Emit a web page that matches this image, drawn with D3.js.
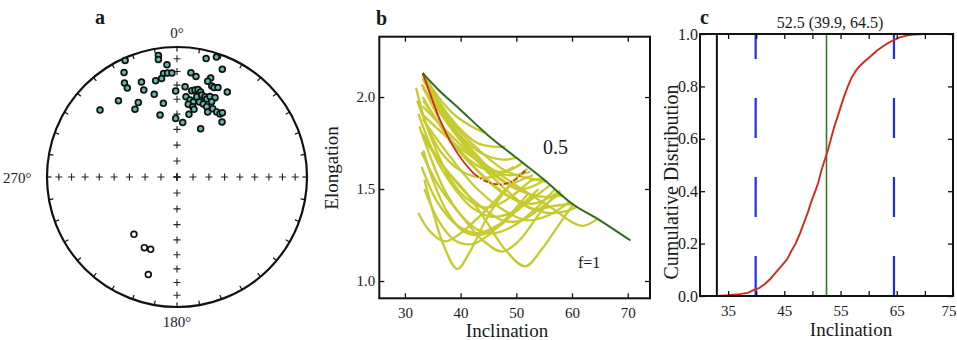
<!DOCTYPE html>
<html>
<head>
<meta charset="utf-8">
<title>Inclination shallowing</title>
<script src="https://d3js.org/d3.v7.min.js"></script>
<style>
    body { margin: 0; background: #fff; }
    svg text { font-family: "Liberation Serif", "Times New Roman", serif; fill: #1a1a1a; }
    .tick text { font-size: 15px; }
    .tick line { stroke: #111; stroke-width: 1.3px; }
</style>
</head>
<body>
<svg id="chart" width="957" height="340"></svg>
<script>
// ---- panel a: site directions (declination / inclination, negative = upper hemisphere)
const decs = [351.3,351,336,13.8,18.2,22.8,354.9,333.1,352.6,354.8,
    357.2,351.1,347.5,339.5,330.8,330.8,339.1,7.6,10.7,18.8,
    17.8,20.9,22.5,24.6,30.6,359.1,5.1,9.7,11.7,13.5,
    15.5,344.6,322.5,332.5,328.2,311,349.5,6.4,9.6,12.3,
    13.8,16.8,19.2,20.9,22.3,25.6,24.7,8.8,12.6,14.1,
    16.6,19.8,22.9,25.3,27.6,31.4,34.3,35.2,39.3,344.7,
    358.7,6.0,10.8,26.1,
    216.9,204.8,200.0,196.4];
const incs = [6.1,9.4,2.1,6.9,3.2,11.1,14.4,10.9,20.8,20.8,
    21.0,24.3,25.1,23.0,18.3,22.7,29.1,20.2,22.4,20.7,
    23.7,26.0,26.4,25.3,25.0,34.2,30.9,33.1,32.2,31.4,
    32.7,34.4,26.9,35.7,38.6,22.6,41.9,37.9,39.7,40.6,
    36.6,34.5,34.9,36.0,33.6,32.8,36.4,42.8,43.9,45.4,
    39.6,40.1,40.9,44.0,40.4,41.0,40.9,39.3,44.5,49.1,
    52.8,55.3,49.4,56.0,
    -44.1,-39.9,-40.5,-22.9];
const gridIncs = [10, 20, 30, 40, 50, 60, 70, 80, 90];
const netLabels = ["0°", "180°", "270°"];

// ---- panel b: elongation / inclination curves
const tk03Inc = [33.2, 36, 40, 45, 50, 55, 60, 65, 70.5];
const tk03E   = [2.13, 2.04, 1.93, 1.79, 1.67, 1.55, 1.42, 1.33, 1.22];
const redInc = [33.2, 34.5, 36.3, 38.5, 40.5, 42.5, 44.7, 47, 49.5, 51.6];
const redE   = [2.13, 2.02, 1.875, 1.74, 1.65, 1.58, 1.54, 1.525, 1.545, 1.6];
const bootCurves = [
    [[32.4,1.37],[34.5,1.27],[37.2,1.215],[40,1.26],[43,1.34],[46,1.43],[49,1.52],[53,1.575]],
    [[33.5,1.55],[35,1.38],[37,1.19],[39.4,1.065],[41.5,1.15],[44.5,1.33],[47,1.45],[50,1.56],[52,1.61]],
    [[33.3,1.78],[37,1.62],[41,1.48],[44.5,1.33],[48,1.17],[51.6,1.08],[54.5,1.17],[57.5,1.3],[60.3,1.42]],
    [[33,1.7],[36,1.52],[40,1.36],[44,1.22],[47.5,1.16],[50.5,1.22],[54,1.36],[57.5,1.49]],
    [[33.3,1.9],[40,1.72],[47,1.58],[52,1.48],[56.7,1.39],[60,1.32],[62,1.30],[64.5,1.335]],
    [[33.2,1.95],[38,1.8],[43,1.65],[48,1.5],[53,1.39],[57,1.41],[60.3,1.42]],
    [[33.2,2.05],[38,1.85],[43,1.68],[47,1.56],[51,1.5],[55.2,1.55]],
    [[33.2,2.1],[37,1.9],[41,1.74],[45,1.62],[48.5,1.575],[52.5,1.594]],
    [[33.2,2.0],[38,1.77],[43,1.6],[48,1.47],[53,1.42],[57.9,1.49]],
    [[33.2,2.13],[36,2.0],[39,1.9],[42,1.84],[44.5,1.805]],
    [[33.2,2.13],[36,1.98],[39.5,1.84],[43,1.75],[46,1.73],[48,1.73]],
    [[33.2,2.12],[36.5,1.94],[40,1.79],[44,1.69],[47.5,1.66],[50,1.67]],
    [[33,2.07],[35.5,1.92],[38,1.78],[41.5,1.66],[45,1.6],[48.5,1.6],[51,1.64]],
    [[32,2.05],[33.5,1.88],[35.5,1.72],[38,1.56],[41,1.45],[44,1.4],[47,1.42],[50,1.48],[53,1.55],[55,1.55]],
    [[32.4,1.91],[34,1.78],[36,1.64],[39,1.5],[42,1.4],[45.5,1.35],[49,1.37],[52.5,1.44],[56,1.52]],
    [[32.6,1.84],[34.5,1.68],[37,1.5],[40,1.36],[43,1.28],[46,1.26],[49.5,1.3],[53,1.38],[57,1.5]],
    [[33.3,1.71],[35,1.55],[37.5,1.38],[40.5,1.27],[43.5,1.25],[47,1.3],[50.5,1.4],[54,1.5]],
    [[33.2,2.1],[38,1.88],[43,1.72],[48,1.6],[52,1.56],[55.5,1.54]],
    [[33.2,2.06],[39,1.8],[45,1.6],[50,1.5],[54,1.46],[58.5,1.465]],
    [[33.3,1.98],[40,1.7],[46,1.52],[51,1.42],[55.5,1.37],[59,1.38],[61,1.405]],
    [[33,1.62],[36,1.42],[39.5,1.3],[43,1.26],[46.5,1.3],[50,1.38],[53.5,1.47]],
    [[32.2,1.98],[34,1.84],[36.5,1.7],[40,1.6],[44,1.56],[47,1.58],[49.5,1.62]],
    [[33.5,1.5],[36,1.33],[39,1.22],[42,1.2],[45,1.25],[48.5,1.35],[52,1.47]],
    [[33.2,1.88],[38,1.68],[43,1.5],[48,1.38],[52,1.33],[56,1.36],[59.5,1.43]],
    [[33.2,1.8],[38,1.58],[43,1.42],[47.5,1.33],[51,1.33],[54.5,1.4],[58,1.48]]
];
const bXTicks = [30, 40, 50, 60, 70];
const bYTicks = [1.0, 1.5, 2.0];

// ---- panel c: cumulative distribution of unflattened inclinations
const cdfInc = [33, 35, 37, 38.5, 39.5, 40.5, 41.5, 42.5, 43.5, 44.5, 45.5, 46.2, 47, 47.8, 48.5,
    49.2, 49.8, 50.5, 51, 51.6, 52.2, 52.8, 53.3, 53.8, 54.4, 55, 55.6, 56.3, 57, 57.8,
    58.3, 59.1, 60.2, 61.5, 62.5, 63.5, 64.5, 65.5, 66.7, 68, 70];
const cdfVal = [0, 0.003, 0.007, 0.012, 0.022, 0.03, 0.045, 0.065, 0.09, 0.115, 0.14, 0.17, 0.2, 0.24, 0.28,
    0.32, 0.36, 0.4, 0.43, 0.48, 0.52, 0.56, 0.6, 0.64, 0.68, 0.72, 0.76, 0.8, 0.835, 0.862,
    0.875, 0.892, 0.912, 0.937, 0.952, 0.966, 0.977, 0.987, 0.994, 0.998, 1.0];
const origInc = 33;
const meanInc = 52.5;
const ciInc = [39.9, 64.5];
const cXTicks = [35, 40, 45, 50, 55, 60, 65, 70, 75];
const cYTicks = [0, 0.2, 0.4, 0.6, 0.8, 1.0];

const svg = d3.select("#chart");

// =============== panel a ===============
const cx = 177, cy = 177, R = 130;
const rScale = d3.scaleLinear().domain([0, 1]).range([0, R]);
const rad = d => d * Math.PI / 180;
// equal-area projection
function proj(dec, inc) {
    const r = rScale(Math.SQRT2 * Math.sin(rad(90 - Math.abs(inc)) / 2));
    return [cx + r * Math.sin(rad(dec)), cy - r * Math.cos(rad(dec))];
}
const ga = svg.append("g");
ga.append("circle").attr("cx", cx).attr("cy", cy).attr("r", R)
    .attr("fill", "none").attr("stroke", "#111").attr("stroke-width", 2.2);
// azimuth ticks every 10 degrees
ga.selectAll(".az").data(d3.range(0, 360, 10)).enter().append("line")
    .attr("x1", d => cx + R * Math.sin(rad(d))).attr("y1", d => cy - R * Math.cos(rad(d)))
    .attr("x2", d => cx + (R - 4.5) * Math.sin(rad(d))).attr("y2", d => cy - (R - 4.5) * Math.cos(rad(d)))
    .attr("stroke", "#111").attr("stroke-width", 1.2);
// crosses along the four axes
const crosses = [];
[0, 90, 180, 270].forEach(az => gridIncs.forEach(i => crosses.push(proj(az, i))));
ga.selectAll(".cross").data(crosses).enter().append("path")
    .attr("d", d => `M${d[0] - 3.5},${d[1]}h7M${d[0]},${d[1] - 3.5}v7`)
    .attr("stroke", "#222").attr("stroke-width", 1.1);
// directions
ga.selectAll(".dir").data(decs.map((d, i) => ({dec: d, inc: incs[i]}))).enter().append("circle")
    .attr("cx", d => proj(d.dec, d.inc)[0]).attr("cy", d => proj(d.dec, d.inc)[1])
    .attr("r", 2.9)
    .attr("fill", d => d.inc >= 0 ? "#5cbcae" : "#fff")
    .attr("stroke", "#111").attr("stroke-width", 1.7);
ga.append("text").attr("x", cx).attr("y", 38).attr("text-anchor", "middle")
    .style("font-size", "15px").text(netLabels[0]);
ga.append("text").attr("x", cx).attr("y", 327).attr("text-anchor", "middle")
    .style("font-size", "15px").text(netLabels[1]);
ga.append("text").attr("x", 3).attr("y", 183)
    .style("font-size", "15px").text(netLabels[2]);
ga.append("text").attr("x", 95).attr("y", 24).style("font-size", "20px")
    .style("font-weight", "bold").text("a");

// =============== panel b ===============
const bx = d3.scaleLinear().domain([25.4, 74]).range([379.3, 650]);
const by = d3.scaleLinear().domain([0.906, 2.328]).range([298.3, 36.7]);
const gb = svg.append("g");
const bLine = d3.line().x(d => bx(d[0])).y(d => by(d[1])).curve(d3.curveCatmullRom.alpha(0.5));

gb.selectAll(".boot").data(bootCurves).enter().append("path")
    .attr("d", bLine).attr("fill", "none")
    .attr("stroke", "#c6cb2e").attr("stroke-width", 2.3);
const redPts = redInc.map((d, i) => [d, redE[i]]);
gb.append("path").attr("d", bLine(redPts.slice(0, 6))).attr("fill", "none")
    .attr("stroke", "#d42a1e").attr("stroke-width", 1.8);
gb.append("path").attr("d", bLine(redPts.slice(5))).attr("fill", "none")
    .attr("stroke", "#d42a1e").attr("stroke-width", 1.8).attr("stroke-dasharray", "5,2,1.5,2");
gb.append("path").attr("d", bLine(tk03Inc.map((d, i) => [d, tk03E[i]]))).attr("fill", "none")
    .attr("stroke", "#2c6e1c").attr("stroke-width", 2);

gb.append("g").attr("transform", "translate(0,298.3)")
    .call(d3.axisBottom(bx).tickValues(bXTicks).tickSize(-5).tickPadding(9))
    .call(g => g.select(".domain").remove());
gb.append("g").attr("transform", "translate(0,36.7)")
    .call(d3.axisTop(bx).tickValues(bXTicks).tickSize(-5).tickFormat(""))
    .call(g => g.select(".domain").remove());
gb.append("g").attr("transform", "translate(379.3,0)")
    .call(d3.axisLeft(by).tickValues(bYTicks).tickSize(-5).tickPadding(4).tickFormat(d3.format(".1f")))
    .call(g => g.select(".domain").remove());
gb.append("g").attr("transform", "translate(650,0)")
    .call(d3.axisRight(by).tickValues(bYTicks).tickSize(-5).tickFormat(""))
    .call(g => g.select(".domain").remove());
gb.append("rect").attr("x", 379.3).attr("y", 36.7).attr("width", 650 - 379.3).attr("height", 298.3 - 36.7)
    .attr("fill", "none").attr("stroke", "#111").attr("stroke-width", 2);

gb.append("text").attr("x", 507).attr("y", 337).attr("text-anchor", "middle")
    .style("font-size", "19px").text("Inclination");
gb.append("text").attr("transform", "translate(338,168) rotate(-90)").attr("text-anchor", "middle")
    .style("font-size", "19px").text("Elongation");
gb.append("text").attr("x", 543).attr("y", 154).style("font-size", "20px").text("0.5");
gb.append("text").attr("x", 578).attr("y", 268).style("font-size", "16px").text("f=1");
gb.append("text").attr("x", 376).attr("y", 25).style("font-size", "20px")
    .style("font-weight", "bold").text("b");

// =============== panel c ===============
const ccx = d3.scaleLinear().domain([30, 75]).range([700, 953]);
const ccy = d3.scaleLinear().domain([0, 1]).range([296, 34]);
const gc = svg.append("g");

gc.append("line").attr("x1", ccx(origInc)).attr("x2", ccx(origInc))
    .attr("y1", ccy(0)).attr("y2", ccy(1)).attr("stroke", "#111").attr("stroke-width", 2);
gc.selectAll(".ci").data(ciInc).enter().append("line")
    .attr("x1", d => ccx(d)).attr("x2", d => ccx(d))
    .attr("y1", ccy(0)).attr("y2", ccy(1))
    .attr("stroke", "#1f2ee8").attr("stroke-width", 2.2).attr("stroke-dasharray", "40,39");
gc.append("line").attr("x1", ccx(meanInc)).attr("x2", ccx(meanInc))
    .attr("y1", ccy(0)).attr("y2", ccy(1)).attr("stroke", "#2f7d22").attr("stroke-width", 1.6);
gc.append("path")
    .attr("d", d3.line().x(d => ccx(d[0])).y(d => ccy(d[1]))(cdfInc.map((d, i) => [d, cdfVal[i]])))
    .attr("fill", "none").attr("stroke", "#d42a1e").attr("stroke-width", 1.9);

gc.append("g").attr("transform", "translate(0,296)")
    .call(d3.axisBottom(ccx).tickValues(cXTicks).tickSize(-5).tickPadding(9)
        .tickFormat(d => d % 10 === 5 ? d : ""))
    .call(g => g.select(".domain").remove())
    .call(g => g.selectAll(".tick text").filter(d => d === 75).attr("text-anchor", "start").attr("dx", "-12"));
gc.append("g").attr("transform", "translate(0,34)")
    .call(d3.axisTop(ccx).tickValues(cXTicks).tickSize(-5).tickFormat(""))
    .call(g => g.select(".domain").remove());
gc.append("g").attr("transform", "translate(700,0)")
    .call(d3.axisLeft(ccy).tickValues(cYTicks).tickSize(-5).tickPadding(2).tickFormat(d3.format(".1f")))
    .call(g => g.select(".domain").remove())
    .call(g => g.selectAll(".tick text").style("font-size", "16px"));
gc.append("g").attr("transform", "translate(953,0)")
    .call(d3.axisRight(ccy).tickValues(cYTicks).tickSize(-5).tickFormat(""))
    .call(g => g.select(".domain").remove());
gc.append("rect").attr("x", 700).attr("y", 34).attr("width", 253).attr("height", 262)
    .attr("fill", "none").attr("stroke", "#111").attr("stroke-width", 2);

gc.append("text").attr("x", 851).attr("y", 336).attr("text-anchor", "middle")
    .style("font-size", "19px").text("Inclination");
gc.append("text").attr("transform", "translate(678,182) rotate(-90)").attr("text-anchor", "middle")
    .style("font-size", "20px").text("Cumulative Distribution");
gc.append("text").attr("x", 830).attr("y", 28).attr("text-anchor", "middle")
    .style("font-size", "16px")
    .text(`${meanInc} (${ciInc[0]}, ${ciInc[1]})`);
gc.append("text").attr("x", 700).attr("y", 24).style("font-size", "20px")
    .style("font-weight", "bold").text("c");
</script>
</body>
</html>
